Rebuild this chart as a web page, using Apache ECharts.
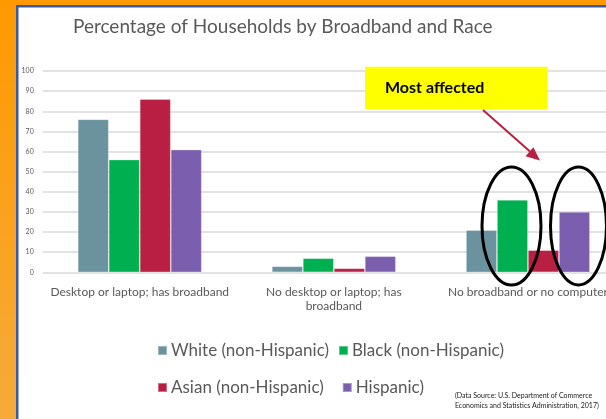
<!DOCTYPE html>
<html>
<head>
<meta charset="utf-8">
<script src="https://cdn.jsdelivr.net/npm/echarts@6/dist/echarts.min.js"></script>
<style>
html,body{margin:0;padding:0;background:#fff;}
#c{width:606px;height:419px;}
</style>
</head>
<body>
<div id="c"></div>
<script>
const categories = ['Desktop or laptop; has broadband', 'No desktop or laptop; has\nbroadband', 'No broadband or no computer'];
const seriesNames = ['White (non-Hispanic)', 'Black (non-Hispanic)', 'Asian (non-Hispanic)', 'Hispanic)'];
const white = [76, 3, 21];
const black = [56, 7, 36];
const asian = [86, 2, 11];
const hispanic = [61, 8, 30];
const yTicks = [0, 100, 10];

const colors = ['#6a929f', '#00b050', '#b91f42', '#7b5eae'];
const values = [white, black, asian, hispanic];
const FONT = 'Lato';

const chart = echarts.init(document.getElementById('c'), null, {renderer: 'canvas'});
chart.setOption({
  backgroundColor: '#ffffff',
  animation: false,
  title: {
    text: 'Percentage of Households by Broadband and Race',
    left: 68, top: 12,
    textStyle: {fontFamily: FONT, fontSize: 19, fontWeight: 'normal', color: '#595959'}
  },
  grid: {left: 42.7, width: 582.3, top: 71, height: 201.3, containLabel: false, outerBoundsMode: 'none'},
  legend: [
    {data: seriesNames.slice(0, 2), left: 152, top: 337, itemWidth: 9, itemHeight: 9, itemGap: 9, icon: 'rect',
     textStyle: {fontFamily: FONT, fontSize: 17, color: '#595959', padding: [0, 0, 0, -1]}},
    {data: seriesNames.slice(2), left: 152, top: 374, itemWidth: 9, itemHeight: 9, itemGap: 18, icon: 'rect',
     textStyle: {fontFamily: FONT, fontSize: 17, color: '#595959', padding: [0, 0, 0, -1]}}
  ],
  xAxis: {
    type: 'category', data: categories,
    axisLine: {show: false}, axisTick: {show: false},
    axisLabel: {interval: 0, margin: 13, fontFamily: FONT, fontSize: 12, color: '#595959', lineHeight: 14}
  },
  yAxis: {
    type: 'value', min: yTicks[0], max: yTicks[1], interval: yTicks[2],
    axisLine: {show: false}, axisTick: {show: false},
    axisLabel: {margin: 9, fontFamily: FONT, fontSize: 7, color: '#595959'},
    splitLine: {lineStyle: {color: '#d9d9d9', width: 1.5}}
  },
  series: seriesNames.map((n, i) => ({
    name: n, type: 'bar', data: values[i], barWidth: 31, barGap: '0%',
    itemStyle: {color: colors[i], borderColor: 'rgba(255,255,255,0.35)', borderWidth: 0.8}
  })),
  graphic: [
    {type: 'rect', shape: {x: 0, y: 0, width: 16, height: 419}, z: 100,
     style: {fill: new echarts.graphic.LinearGradient(0, 0, 0, 1, [{offset: 0, color: '#ff9900'}, {offset: 1, color: '#f6aa3a'}])}},
    {type: 'rect', shape: {x: 0, y: 0, width: 606, height: 5}, z: 100, style: {fill: '#ff9900'}},
    {type: 'rect', shape: {x: 16, y: 5, width: 2.5, height: 414}, z: 100, style: {fill: '#3a5ba0'}},
    {type: 'rect', shape: {x: 16, y: 5, width: 590, height: 2.5}, z: 100, style: {fill: '#3a5ba0'}},
    {type: 'rect', shape: {x: 365, y: 66.7, width: 182.7, height: 42.6}, z: 100, style: {fill: '#ffff00'}},
    {type: 'text', x: 385, y: 88, z: 101,
     style: {text: 'Most affected', fontFamily: FONT, fontSize: 16, fontWeight: 'bold', fill: '#000', textVerticalAlign: 'middle'}},
    {type: 'line', shape: {x1: 483, y1: 110, x2: 530, y2: 151.5}, z: 100, style: {stroke: '#b91f42', lineWidth: 2}},
    {type: 'polygon', shape: {points: [[540, 160.5], [525.5, 156.3], [533.4, 147.3]]}, z: 100, style: {fill: '#b91f42'}},
    {type: 'ellipse', shape: {cx: 511.5, cy: 226, rx: 29.5, ry: 59}, z: 100, style: {fill: 'none', stroke: '#000', lineWidth: 3}},
    {type: 'ellipse', shape: {cx: 578.5, cy: 226, rx: 28, ry: 59}, z: 100, style: {fill: 'none', stroke: '#000', lineWidth: 3}},
    {type: 'text', x: 455, y: 396, z: 100,
     style: {text: '(Data Source: U.S. Department of Commerce', fontFamily: FONT, fontSize: 7, fill: '#222', textVerticalAlign: 'middle'}},
    {type: 'text', x: 455, y: 406, z: 100,
     style: {text: 'Economics and Statistics Administration, 2017)', fontFamily: FONT, fontSize: 7, fill: '#222', textVerticalAlign: 'middle'}}
  ]
});
</script>
</body>
</html>
